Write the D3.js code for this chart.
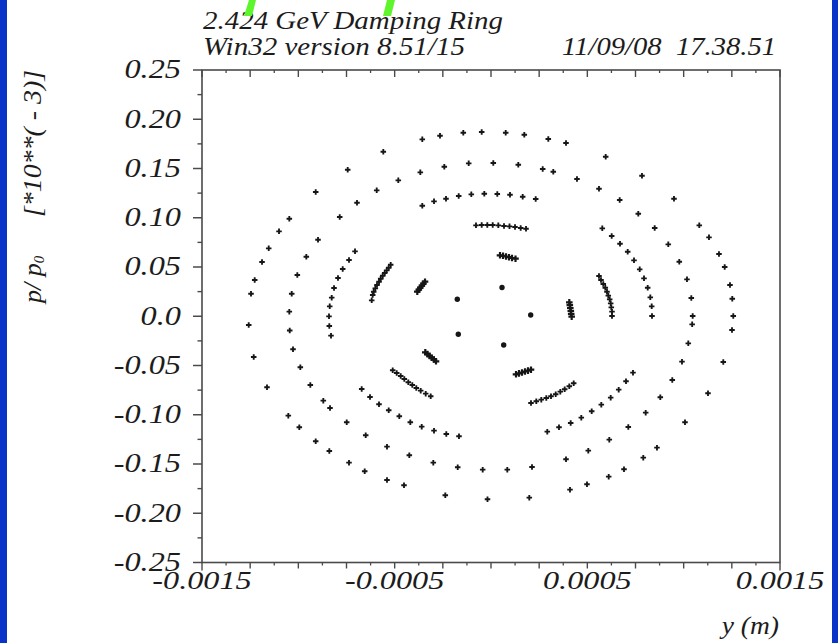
<!DOCTYPE html>
<html><head><meta charset="utf-8">
<script src="https://cdn.jsdelivr.net/npm/d3@7"></script>
<style>
body{margin:0;background:#fff;}
svg{display:block;}
text{font-family:"Liberation Serif","Times New Roman",serif;font-style:italic;fill:#1c1c1c;white-space:pre;}
</style>
</head><body>
<svg id="c" width="838" height="643"></svg>
<script>
// ---------- DATA (x in metres, p/p0 in units of 1e-3) ----------
const titleLine1 = "2.424 GeV Damping Ring";
const titleLine2 = "Win32 version 8.51/15";
const dateText = "11/09/08\u00a0\u00a017.38.51";
const yTickValues = [0.25,0.20,0.15,0.10,0.05,0,-0.05,-0.10,-0.15,-0.20,-0.25];
const yTickLabels = ["0.25","0.20","0.15","0.10","0.05","0.0","-0.05","-0.10","-0.15","-0.20","-0.25"];
const xTickValues = [-0.0015,-0.0005,0.0005,0.0015];
const xTickLabels = ["-0.0015","-0.0005","0.0005","0.0015"];

// outermost torus
const orbitOuter = [
[-0.0012575,-0.00888],[-0.0012456,0.02289],[-0.0012264,0.03679],[-0.0011885,0.05506],[-0.0011537,0.06897],
[-0.0011003,0.08622],[-0.0010468,0.09901],[-0.0009098,0.12611],[-0.0007437,0.14875],[-0.000559,0.16702],
[-0.0003566,0.1796],[-0.0002647,0.18326],[-0.0001438,0.1863],[-0.0000483,0.18701],[0.0000763,0.1863],
[0.0001728,0.18427],[0.0002974,0.17991],[0.0003893,0.17585],[0.0005953,0.16194],[0.0007837,0.14266],
[0.0009498,0.11931],[0.0010811,0.09231],[0.0011314,0.08013],[0.0011833,0.06318],[0.0012129,0.04999],
[0.0012404,0.03172],[0.0012523,0.01781],[0.0012575,0.00025],[0.0012508,-0.01396],[0.0012056,-0.04644],
[0.0011262,-0.07821],[0.0010069,-0.10764],[0.0008615,-0.13342],[0.0007904,-0.14357],[0.0006903,-0.15535],
[0.0006109,-0.16286],[0.0004982,-0.17057],[0.00041,-0.17605],[0.0001988,-0.18417],[-0.0000182,-0.1858],
[-0.0002372,-0.18174],[-0.0004515,-0.17159],[-0.0005398,-0.16621],[-0.0006555,-0.15738],[-0.000737,-0.14865],
[-0.0008392,-0.13677],[-0.0009098,-0.12693],[-0.0009949,-0.11272],[-0.001052,-0.10094],[-0.0011626,-0.07212],
[-0.0012316,-0.04136]
];
// second torus
const orbitMiddle = [
[-0.0010468,0.00462],[-0.0010344,0.02289],[-0.0010053,0.04187],[-0.0009586,0.06044],[-0.0008979,0.0777],
[-0.0007852,0.10074],[-0.0006955,0.11525],[-0.0005932,0.12784],[-0.0004811,0.13799],[-0.0003669,0.14611],
[-0.0002424,0.15179],[-0.0001157,0.15524],[0.0000119,0.15555],[0.0001417,0.15382],[0.0002683,0.14946],
[0.0003233,0.14672],[0.0004463,0.13931],[0.0005605,0.12946],[0.000668,0.118],[0.0007645,0.10409],
[0.0008496,0.08957],[0.0009202,0.07303],[0.0009773,0.05537],[0.0010172,0.0375],[0.0010396,0.01852],
[0.0010468,0.00025],[0.0010442,-0.00817],[0.001024,-0.02746],[0.0009913,-0.04613],[0.0009409,-0.06471],
[0.0008787,-0.08227],[0.0008029,-0.0979],[0.0007126,-0.11241],[0.000614,-0.1253],[0.000505,-0.13647],
[0.0003893,-0.1452],[0.0002128,-0.15301],[0.0000846,-0.15575],[-0.0000431,-0.15575],[-0.0001728,-0.15332],
[-0.0002995,-0.14865],[-0.000424,-0.14114],[-0.0005398,-0.13241],[-0.0006503,-0.12084],[-0.0007489,-0.10764],
[-0.0008356,-0.09313],[-0.0008704,-0.08572],[-0.0009378,-0.06978],[-0.0009897,-0.05182],[-0.0010276,-0.03355],
[-0.0010447,-0.01446]
];
// outer island chain (five arcs)
const islandArcsOuter = [
[-0.0008304,-0.01974],[-0.0008392,-0.0099],[-0.0008408,-0.00005],[-0.0008371,0.0101],[-0.0008268,0.01883],
[-0.0008148,0.02867],[-0.0007941,0.03882],[-0.0007697,0.04796],[-0.000737,0.05709],[-0.0007058,0.06592],
[-0.0003566,0.11221],[-0.0002958,0.11667],[-0.0002336,0.11931],[-0.0001676,0.12205],[-0.0001022,0.12378],
[-0.0000348,0.12439],[0.0000327,0.12408],[0.0000986,0.12337],[0.0001645,0.12134],[0.000232,0.11901],
[0.0005776,0.08927],[0.0006264,0.08145],[0.0006695,0.07364],[0.0007095,0.06552],[0.0007422,0.05679],
[0.0007718,0.04765],[0.0007941,0.03852],[0.0008133,0.02898],[0.0008268,0.01923],[0.000834,0.0101],[0.0008356,0.00025],
[0.000737,-0.0573],[0.0007007,-0.06603],[0.0006628,-0.07455],[0.0006212,-0.08267],[0.0005725,-0.08978],
[0.0005226,-0.09648],[0.0004687,-0.10297],[0.0004136,-0.10835],[0.0003529,-0.11272],[0.0002922,-0.11718],
[-0.0006711,-0.07384],[-0.000628,-0.08196],[-0.0005813,-0.08937],[-0.0005309,-0.09546],[-0.0004759,-0.10155],
[-0.0004188,-0.10764],[-0.0003597,-0.11211],[-0.0002958,-0.11617],[-0.000232,-0.11952],[-0.0001661,-0.12185]
];
// inner dense arcs
const islandArcsInner = [
[-0.0000779,0.09231],[-0.0000483,0.09262],[-0.0000192,0.09262],[0.0000088,0.09262],[0.0000379,0.09231],
[0.0000675,0.0916],[0.000096,0.0913],[0.0001246,0.09059],[0.0001541,0.08957],[0.0001817,0.08886],
[-0.0005206,0.05232],[-0.0005309,0.04928],[-0.0005413,0.04664],[-0.0005517,0.0439],[-0.0005621,0.04116],
[-0.0005725,0.03811],[-0.0005813,0.03507],[-0.0005917,0.03172],[-0.0006005,0.02837],[-0.0006088,0.02492],
[-0.000614,0.02157],[-0.0006192,0.01619],
[0.0005605,0.04085],[0.0005709,0.03679],[0.0005828,0.03273],[0.0005932,0.02898],[0.000602,0.02492],
[0.0006088,0.02086],[0.0006161,0.0172],[0.0006212,0.01314],[0.0006244,0.00908],[0.000628,0.00462],[0.000628,0.00025],
[-0.0005102,-0.05486],[-0.0004894,-0.0576],[-0.0004687,-0.06065],[-0.00045,-0.06369],[-0.0004292,-0.06704],
[-0.0004085,-0.06978],[-0.0003877,-0.07283],[-0.0003649,-0.07557],[-0.0003389,-0.07861],[-0.000313,-0.08125],
[0.0002076,-0.08805],[0.0002351,-0.08633],[0.0002611,-0.0847],[0.000287,-0.08298],[0.0003114,-0.08125],
[0.0003358,-0.07922],[0.0003597,-0.07658],[0.0003825,-0.07415],[0.0004064,-0.0711],[0.0004292,-0.06806]
];
// short island segments near the fixed points
const islandSegments = [
[-0.0003825,0.02492],[-0.0003747,0.02695],[-0.0003669,0.02898],[-0.0003586,0.03101],[-0.0003508,0.03304],[-0.0003425,0.03507],
[0.0000467,0.06186],[0.0000623,0.06136],[0.0000779,0.06065],[0.0000934,0.05994],[0.000109,0.05912],[0.0001272,0.05841],
[0.0004064,0.01416],[0.000409,0.01122],[0.0004116,0.00837],[0.0004142,0.00543],[0.0004162,0.00249],[0.0004188,-0.00046],
[0.0001298,-0.05892],[0.0001453,-0.05801],[0.0001609,-0.05709],[0.0001765,-0.05608],[0.000192,-0.05517],[0.0002076,-0.05425],
[-0.000341,-0.03659],[-0.0003301,-0.03842],[-0.0003187,-0.04024],[-0.0003078,-0.04207],[-0.0002963,-0.0439],[-0.0002855,-0.04573]
];
// innermost fixed points
const coreDots = [
[-0.0001749,0.0172],[0.0000571,0.02918],[0.000206,0.00127],[0.0000659,-0.02918],[-0.0001697,-0.01832]
];

// ---------- CHART ----------
const svg = d3.select("#c");
const W = 838, H = 643;
const x = d3.scaleLinear().domain([-0.0015, 0.0015]).range([202, 780]);
const y = d3.scaleLinear().domain([-0.25, 0.25]).range([562.5, 70]);
const ink = "#161616", frame = "#4a4a4a";

svg.append("rect").attr("width", W).attr("height", H).attr("fill", "#fff");
svg.append("rect").attr("x", 0).attr("y", 0).attr("width", 7).attr("height", H).attr("fill", "#0a33c8");
svg.append("rect").attr("x", 832).attr("y", 0).attr("width", 6).attr("height", H).attr("fill", "#0a33c8");

function stretch(sel, f) {
  sel.each(function () {
    const w = this.getComputedTextLength();
    this.setAttribute("textLength", w * f);
    this.setAttribute("lengthAdjust", "spacingAndGlyphs");
  });
}

// titles
svg.append("text").attr("x", 203).attr("y", 28.5).attr("font-size", 25).text(titleLine1)
  .attr("textLength", 300).attr("lengthAdjust", "spacingAndGlyphs");
svg.append("text").attr("x", 203).attr("y", 55).attr("font-size", 25).text(titleLine2)
  .attr("textLength", 262).attr("lengthAdjust", "spacingAndGlyphs");
svg.append("text").attr("x", 776).attr("y", 55).attr("font-size", 25).attr("text-anchor", "end").text(dateText)
  .attr("textLength", 214).attr("lengthAdjust", "spacingAndGlyphs");

// green slide decorations
const green = "#5ef52c";
svg.append("path").attr("d", "M249,0L256,0L252,16L244,16Z").attr("fill", green);
svg.append("path").attr("d", "M387,0L395,0L391,16L383,16Z").attr("fill", green);

// frame
const g = svg.append("g");
g.append("rect").attr("x", x(-0.0015)).attr("y", y(0.25))
  .attr("width", x(0.0015) - x(-0.0015)).attr("height", y(-0.25) - y(0.25))
  .attr("fill", "none").attr("stroke", frame).attr("stroke-width", 1.6);

// y ticks (outward, left)
const yMinor = d3.range(-0.225, 0.25, 0.05);
g.selectAll(".ymaj").data(yTickValues).join("line")
  .attr("x1", x(-0.0015) - 9).attr("x2", x(-0.0015)).attr("y1", d => y(d)).attr("y2", d => y(d))
  .attr("stroke", frame).attr("stroke-width", 1.5);
g.selectAll(".ymin").data(yMinor).join("line")
  .attr("x1", x(-0.0015) - 4.5).attr("x2", x(-0.0015)).attr("y1", d => y(d)).attr("y2", d => y(d))
  .attr("stroke", frame).attr("stroke-width", 1.4);
const ylab = g.selectAll(".ylab").data(yTickValues).join("text")
  .attr("x", 181).attr("y", d => y(d)).attr("dy", "0.32em").attr("text-anchor", "end")
  .attr("font-size", 26.5).text((d, i) => yTickLabels[i]);
stretch(ylab, 1.22);

// x ticks: bottom (outward) and top (inward)
const xMed = d3.range(-6, 7).map(k => k * 0.00025);
const xSmall = d3.range(-6, 6).map(k => (k + 0.5) * 0.00025);
g.selectAll(".xbm").data(xMed).join("line")
  .attr("x1", d => x(d)).attr("x2", d => x(d)).attr("y1", y(-0.25))
  .attr("y2", d => y(-0.25) + (Math.abs(Math.abs(d) - 0.0015) < 1e-9 ? 8 : 6))
  .attr("stroke", frame).attr("stroke-width", 1.4);
g.selectAll(".xbs").data(xSmall).join("line")
  .attr("x1", d => x(d)).attr("x2", d => x(d)).attr("y1", y(-0.25)).attr("y2", y(-0.25) + 3)
  .attr("stroke", frame).attr("stroke-width", 1.3);
g.selectAll(".xtm").data(xMed).join("line")
  .attr("x1", d => x(d)).attr("x2", d => x(d)).attr("y1", y(0.25)).attr("y2", y(0.25) + 7)
  .attr("stroke", frame).attr("stroke-width", 1.4);
g.selectAll(".xts").data(xSmall).join("line")
  .attr("x1", d => x(d)).attr("x2", d => x(d)).attr("y1", y(0.25)).attr("y2", y(0.25) + 3)
  .attr("stroke", frame).attr("stroke-width", 1.3);
const xlab = g.selectAll(".xlab").data(xTickValues).join("text")
  .attr("x", d => x(d)).attr("y", 589).attr("text-anchor", "middle")
  .attr("font-size", 26).text((d, i) => xTickLabels[i]);
stretch(xlab, 1.24);

// axis titles
const xt = svg.append("text").attr("x", 779).attr("y", 634).attr("text-anchor", "end")
  .attr("font-size", 25).text("y (m)");
stretch(xt, 1.1);
const yl1 = svg.append("text").attr("transform", "translate(41,303) rotate(-90)").attr("font-size", 26);
yl1.append("tspan").text("p/ p");
yl1.append("tspan").attr("font-size", 15).attr("dy", 3).text("0");
svg.append("text").attr("transform", "translate(41,70) rotate(-90)").attr("text-anchor", "end")
  .attr("font-size", 26).text("[*10**( - 3)]")
  .attr("textLength", 147).attr("lengthAdjust", "spacingAndGlyphs");

// ---------- MARKS ----------
const cross = d3.symbol().type(d3.symbolCross).size(17);
const crossBig = d3.symbol().type(d3.symbolCross).size(24);
const pts = g.append("g").attr("fill", ink);
[orbitOuter, orbitMiddle, islandArcsOuter, islandArcsInner].forEach(series => {
  pts.append("g").selectAll("path").data(series).join("path")
    .attr("transform", d => `translate(${x(d[0])},${y(d[1])})`)
    .attr("d", cross);
});
pts.append("g").selectAll("path").data(islandSegments).join("path")
  .attr("transform", d => `translate(${x(d[0])},${y(d[1])})`)
  .attr("d", crossBig);
pts.append("g").selectAll("circle").data(coreDots).join("circle")
  .attr("cx", d => x(d[0])).attr("cy", d => y(d[1])).attr("r", 2.7);
</script>
</body></html>
